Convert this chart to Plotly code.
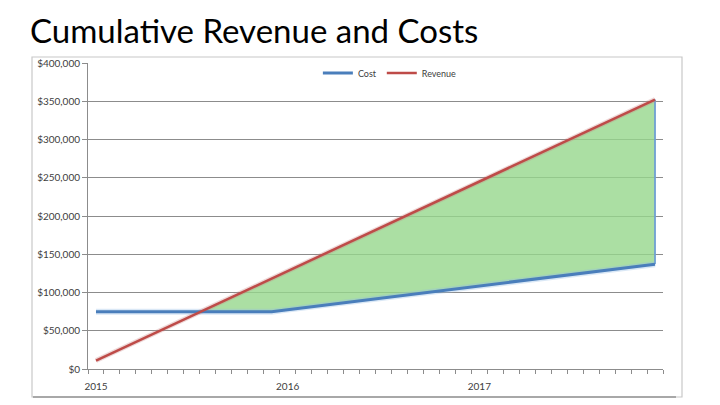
import numpy as np
import plotly.graph_objects as go

# ---- data ----
year_labels = ["2015", "2016", "2017"]
months = list(range(36))  # Jan 2015 .. Dec 2017, one category per month
revenue = [11000, 20750, 30500, 40250, 50000, 59750, 69500, 79250, 89000, 98750,
           108500, 118250, 128000, 137750, 147500, 157250, 167000, 176750, 186500,
           196250, 206000, 215750, 225500, 235250, 245000, 254750, 264500, 274250,
           284000, 293750, 303500, 313250, 323000, 332750, 342500, 352250]
cost = [75000, 75000, 75000, 75000, 75000, 75000, 75000, 75000, 75000, 75000,
        75000, 75000, 77600, 80200, 82700, 85300, 87900, 90500, 93100, 95700,
        98200, 100800, 103400, 106000, 108600, 111200, 113700, 116300, 118900,
        121500, 124100, 126700, 129200, 131800, 134400, 137000]
y_ticks = [0, 50000, 100000, 150000, 200000, 250000, 300000, 350000, 400000]

# ---- derived: profit region polygon ----
x = np.array(months, dtype=float)
rv = np.array(revenue, dtype=float)
cs = np.array(cost, dtype=float)
diff = rv - cs
i = int(np.argmax(diff > 0))
t = -diff[i - 1] / (diff[i] - diff[i - 1])
xc = x[i - 1] + t
yc = rv[i - 1] + t * (rv[i] - rv[i - 1])
poly_x = [xc] + list(x[i:]) + list(x[i:][::-1]) + [xc]
poly_y = [yc] + list(rv[i:]) + list(cs[i:][::-1]) + [yc]

BLUE = "#4A7EBB"
RED = "#BE4B48"
GRID = "#8C8C8C"
TXT = "#404040"
FONT = "Lato, Carlito, 'Open Sans', sans-serif"

fig = go.Figure()
fig.add_trace(go.Scatter(x=poly_x, y=poly_y, fill="toself", mode="lines",
                         line=dict(width=0), fillcolor="rgba(150,215,140,0.8)",
                         hoverinfo="skip", showlegend=False))
# right edge of the area
fig.add_trace(go.Scatter(x=[x[-1], x[-1]], y=[cs[-1], rv[-1]], mode="lines",
                         line=dict(color="rgba(110,160,210,0.9)", width=2),
                         hoverinfo="skip", showlegend=False))
# glows
fig.add_trace(go.Scatter(x=months, y=cost, mode="lines",
                         line=dict(color="rgba(150,190,230,0.35)", width=6),
                         hoverinfo="skip", showlegend=False))
fig.add_trace(go.Scatter(x=months, y=revenue, mode="lines",
                         line=dict(color="rgba(200,130,130,0.3)", width=5),
                         hoverinfo="skip", showlegend=False))
fig.add_trace(go.Scatter(x=months, y=cost, mode="lines", name="Cost",
                         line=dict(color=BLUE, width=3)))
fig.add_trace(go.Scatter(x=months, y=revenue, mode="lines", name="Revenue",
                         line=dict(color=RED, width=2.5)))

# page body has an 8px margin, so the figure is offset by (8, 8)
fig.update_layout(
    width=720, height=405,
    margin=dict(l=80, r=65, t=55, b=44),
    paper_bgcolor="white", plot_bgcolor="white",
    font=dict(family=FONT, size=10, color=TXT),
    legend=dict(orientation="h", x=0.525, xanchor="center", y=0.967, yanchor="middle",
                bgcolor="white", font=dict(size=9, color=TXT), itemwidth=30,
                tracegroupgap=0),
    showlegend=True,
)
fig.add_annotation(text="Cumulative Revenue and Costs", xref="paper", yref="paper",
                   x=(28 - 88) / 575, xanchor="left", y=(369 - 30) / 306, yanchor="middle",
                   showarrow=False, font=dict(family=FONT, size=33, color="#000000"))
fig.update_xaxes(range=[-0.5, 35.5], tickmode="array", tickvals=[0, 12, 24],
                 ticktext=year_labels, ticks="", showgrid=False, zeroline=False,
                 showline=True, linecolor=GRID, linewidth=1, ticklabelstandoff=8,
                 tickfont=dict(size=10, color=TXT),
                 minor=dict(tickmode="array", tickvals=[m - 0.5 for m in months] + [35.5],
                            ticks="outside", ticklen=4, tickcolor=GRID, showgrid=False))
fig.update_yaxes(range=[0, 400000], tickmode="array", tickvals=y_ticks,
                 tickformat="$,d", ticks="outside", ticklen=5,
                 tickcolor=GRID, showgrid=True, gridcolor=GRID, gridwidth=1,
                 zeroline=False, showline=True, linecolor=GRID, linewidth=1,
                 tickfont=dict(size=10, color=TXT))

# outer chart frame
fig.add_shape(type="rect", xref="paper", yref="paper",
              x0=(32 - 88) / 575, x1=(682 - 88) / 575,
              y0=(369 - 397) / 306, y1=(369 - 57) / 306,
              line=dict(color="#C8C8C8", width=1.2), layer="below")
fig.add_shape(type="line", xref="paper", yref="paper",
              x0=(33 - 88) / 575, x1=(676 - 88) / 575,
              y0=(369 - 397) / 306, y1=(369 - 397) / 306,
              line=dict(color="#A8A8A8", width=2), layer="below")

fig.write_html("out.html")
